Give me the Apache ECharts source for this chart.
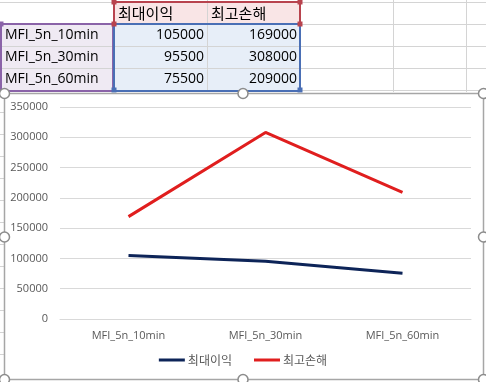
<!DOCTYPE html>
<html><head><meta charset="utf-8">
<script src="https://cdn.jsdelivr.net/npm/echarts@6/dist/echarts.min.js"></script>
<style>html,body{margin:0;padding:0;background:#fff}#c{width:486px;height:382px}</style>
</head><body><div id="c"></div>
<script>
const categories = ['MFI_5n_10min', 'MFI_5n_30min', 'MFI_5n_60min'];
const seriesNames = ['최대이익', '최고손해'];
const maxProfit = [105000, 95500, 75500];
const maxLoss = [169000, 308000, 209000];
const yTicks = { min: 0, max: 350000, interval: 50000 };

const KF = '"Noto Sans CJK KR", "Noto Sans", sans-serif';
const LF = '"Open Sans", "Noto Sans", sans-serif';
const g = [];
const rowY = [2, 24, 46, 68, 90];
const colX = [113, 207, 300, 393, 466];
g.push({type:'rect', shape:{x:114,y:3,width:186,height:21}, style:{fill:'#f9e5e6'}, z:0});
g.push({type:'rect', shape:{x:0,y:25,width:113,height:66}, style:{fill:'#efeaf3'}, z:0});
g.push({type:'rect', shape:{x:114,y:25,width:186,height:66}, style:{fill:'#e7eef8'}, z:0});
rowY.forEach(y => g.push({type:'line', shape:{x1:0,y1:y+0.5,x2:486,y2:y+0.5}, style:{stroke:'#d4d4d4',lineWidth:1}, z:1}));
colX.forEach(x => g.push({type:'line', shape:{x1:x+0.5,y1:0,x2:x+0.5,y2:92}, style:{stroke:'#d4d4d4',lineWidth:1}, z:1}));
[112,134,156,178,200,222,244,266,288,310,332,354,376].forEach(y => g.push({type:'line', shape:{x1:0,y1:y+0.5,x2:4,y2:y+0.5}, style:{stroke:'#d4d4d4',lineWidth:1}, z:1}));
g.push({type:'rect', shape:{x:114,y:2,width:186,height:22}, style:{fill:null,stroke:'#b8434e',lineWidth:2}, z:2});
g.push({type:'rect', shape:{x:1,y:24,width:112,height:67}, style:{fill:null,stroke:'#8a63a8',lineWidth:2}, z:2});
g.push({type:'rect', shape:{x:114,y:24,width:186,height:67}, style:{fill:null,stroke:'#4a6fb5',lineWidth:2}, z:2});
[[114,2,'#b8434e'],[300,2,'#b8434e'],[114,24,'#b8434e'],[300,24,'#b8434e'],[1,24,'#8a63a8'],[114,90,'#4a6fb5'],[300,90,'#4a6fb5']].forEach(p =>
  g.push({type:'rect', shape:{x:p[0]-2.5,y:p[1]-2.5,width:5,height:5}, style:{fill:p[2]}, z:3}));
const kf = '15px ' + KF;
const lf = '14px ' + LF;
g.push({type:'text', style:{text:seriesNames[0], x:118, y:13, verticalAlign:'middle', font:kf, fill:'#000'}, z:3});
g.push({type:'text', style:{text:seriesNames[1], x:211, y:13, verticalAlign:'middle', font:kf, fill:'#000'}, z:3});
categories.forEach((c,i) => {
  const y = 35 + i*22;
  g.push({type:'text', style:{text:c, x:5, y:y, verticalAlign:'middle', font:lf, fill:'#000'}, z:3});
  g.push({type:'text', style:{text:String(maxProfit[i]), x:204, y:y, align:'right', verticalAlign:'middle', font:lf, fill:'#000'}, z:3});
  g.push({type:'text', style:{text:String(maxLoss[i]), x:297, y:y, align:'right', verticalAlign:'middle', font:lf, fill:'#000'}, z:3});
});
g.push({type:'rect', shape:{x:4.5,y:93.5,width:479,height:286}, style:{fill:null,stroke:'#a6a6a6',lineWidth:1.5}, z:4});
[[4.5,93.5],[243,93.5],[483.5,93.5],[4.5,237],[483.5,237],[4.5,379.5],[243,379.5],[483.5,379.5]].forEach(p =>
  g.push({type:'circle', shape:{cx:p[0],cy:p[1],r:5}, style:{fill:'#fff',stroke:'#8c8c8c',lineWidth:1.5}, z:100}));

const chart = echarts.init(document.getElementById('c'), null, {renderer:'canvas'});
chart.setOption({
  animation:false,
  backgroundColor:'#fff',
  graphic: g.map(e => Object.assign({silent:true}, e)),
  grid:{left:60, right:15, top:107, bottom:63, containLabel:false},
  xAxis:{type:'category', data:categories, boundaryGap:true,
    axisLine:{lineStyle:{color:'#d9d9d9'}}, axisTick:{show:false},
    axisLabel:{color:'#595959', fontSize:11, fontFamily:LF, margin:11}},
  yAxis:{type:'value', min:yTicks.min, max:yTicks.max, interval:yTicks.interval,
    axisLine:{show:false}, axisTick:{show:false},
    splitLine:{lineStyle:{color:'#d9d9d9'}},
    axisLabel:{color:'#595959', fontSize:11, fontFamily:LF, margin:12, formatter: v => String(v)}},
  legend:{bottom:11, left:'center', icon:'rect', itemWidth:26, itemHeight:3, itemGap:22,
    textStyle:{color:'#595959', fontSize:12, fontFamily:KF, padding:[0,0,0,-2]}, data:seriesNames},
  series:[
    {name:seriesNames[0], type:'line', data:maxProfit, symbol:'none', lineStyle:{color:'#0d2458', width:3}, itemStyle:{color:'#0d2458'}, z:10},
    {name:seriesNames[1], type:'line', data:maxLoss, symbol:'none', lineStyle:{color:'#e01e1e', width:3}, itemStyle:{color:'#e01e1e'}, z:10}
  ]
});
</script></body></html>
